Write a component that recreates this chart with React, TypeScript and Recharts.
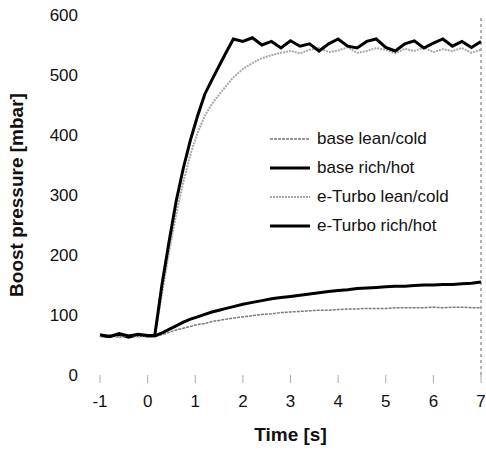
import React from 'react'
import { LineChart, Line, XAxis, YAxis, ReferenceLine } from 'recharts'

// time axis in seconds
const time = [
  -1, -0.8, -0.6, -0.4, -0.2, 0,
  0.15, 0.3, 0.45, 0.6, 0.75, 0.9, 1.05, 1.2, 1.35, 1.5, 1.65, 1.8,
  2.0, 2.2, 2.4, 2.6, 2.8, 3.0, 3.2, 3.4, 3.6, 3.8, 4.0, 4.2, 4.4, 4.6, 4.8,
  5.0, 5.2, 5.4, 5.6, 5.8, 6.0, 6.2, 6.4, 6.6, 6.8, 7.0,
]

// boost pressure [mbar]
const baseLeanCold = [
  65, 67, 63, 66, 64, 66,
  65, 67, 71, 75, 78, 81, 84, 86, 89, 91, 93, 95,
  97, 99, 101, 102, 104, 105, 106, 107, 108, 108, 109, 110, 110, 111, 111,
  111, 112, 112, 112, 112, 113, 112, 113, 113, 112, 112,
]
const baseRichHot = [
  66, 64, 68, 63, 67, 65,
  65, 70, 76, 82, 88, 93, 97, 101, 105, 108, 111, 114,
  118, 121, 124, 127, 129, 131, 133, 135, 137, 139, 141, 142, 144, 145, 146,
  147, 148, 148, 149, 150, 150, 151, 151, 152, 153, 155,
]
const eTurboLeanCold = [
  64, 66, 63, 67, 64, 65,
  64, 135, 205, 268, 322, 368, 404, 432, 452, 467, 482, 496,
  510, 520, 528, 533, 537, 540, 536, 542, 545, 538, 541, 546, 537, 540, 545,
  542, 536, 544, 540, 546, 538, 543, 540, 545, 537, 542,
]
const eTurboRichHot = [
  67, 64, 69, 65, 68, 66,
  66, 150, 222, 290, 345, 392, 432, 468, 492, 515, 538, 560,
  556, 562, 550, 556, 545, 557, 548, 552, 540, 552, 560, 548, 545, 556, 560,
  546, 540, 552, 557, 545, 553, 560, 548, 556, 546, 556,
]

const xTicks = [-1, 0, 1, 2, 3, 4, 5, 6, 7]
const yTicks = [0, 100, 200, 300, 400, 500, 600]

const series = [
  { key: 'baseLean', name: 'base lean/cold', color: '#7a7a7a', width: 1.5, dash: '3 1' },
  { key: 'baseRich', name: 'base rich/hot', color: '#000000', width: 3, dash: undefined },
  { key: 'eLean', name: 'e-Turbo lean/cold', color: '#a8a8a8', width: 2, dash: '2 1' },
  { key: 'eRich', name: 'e-Turbo rich/hot', color: '#000000', width: 3, dash: undefined },
]

const data = time.map((t, i) => ({
  t,
  baseLean: baseLeanCold[i],
  baseRich: baseRichHot[i],
  eLean: eTurboLeanCold[i],
  eRich: eTurboRichHot[i],
}))

const font = '"Liberation Sans", Arial, sans-serif'

export default function App() {
  return (
    <div style={{ position: 'absolute', left: 0, top: 0, width: 486, height: 461, background: '#fff' }}>
      <LineChart width={486} height={461} data={data} margin={{ top: 15, right: 5, bottom: 0, left: 0 }}>
        <XAxis
          type="number"
          dataKey="t"
          domain={[-1, 7]}
          ticks={xTicks}
          axisLine={false}
          tickLine={{ stroke: '#aaa' }}
          tickSize={8}
          tickMargin={12}
          height={86}
          tick={{ fontSize: 17, fill: '#111', fontFamily: font }}
          label={{ value: 'Time [s]', position: 'insideBottom', offset: 20, style: { fontSize: 19, fontWeight: 700, fill: '#111', fontFamily: font } }}
        />
        <YAxis
          type="number"
          domain={[0, 600]}
          ticks={yTicks}
          axisLine={false}
          tickLine={false}
          tickSize={0}
          tickMargin={22}
          width={100}
          tick={{ fontSize: 17, fill: '#111', fontFamily: font }}
          label={{ value: 'Boost pressure [mbar]', angle: -90, position: 'insideLeft', offset: 16, style: { textAnchor: 'middle', fontSize: 19, fontWeight: 700, fill: '#111', fontFamily: font } }}
        />
        <ReferenceLine x={7} stroke="#666" strokeDasharray="3 3" />
        {series.map(s => (
          <Line
            key={s.key}
            type="linear"
            dataKey={s.key}
            name={s.name}
            stroke={s.color}
            strokeWidth={s.width}
            strokeDasharray={s.dash}
            dot={false}
            isAnimationActive={false}
          />
        ))}
      </LineChart>

      {/* legend sits inside the plot, right of the steep rise */}
      <div style={{ position: 'absolute', left: 268, top: 124, fontFamily: font, fontSize: 17, color: '#111' }}>
        {series.map(s => (
          <div key={s.key} style={{ display: 'flex', alignItems: 'center', height: 29 }}>
            <svg width={44} height={10} style={{ marginRight: 5 }}>
              <line x1={2} y1={5} x2={42} y2={5} stroke={s.color} strokeWidth={s.width} strokeDasharray={s.dash} />
            </svg>
            <span>{s.name}</span>
          </div>
        ))}
      </div>
    </div>
  )
}
